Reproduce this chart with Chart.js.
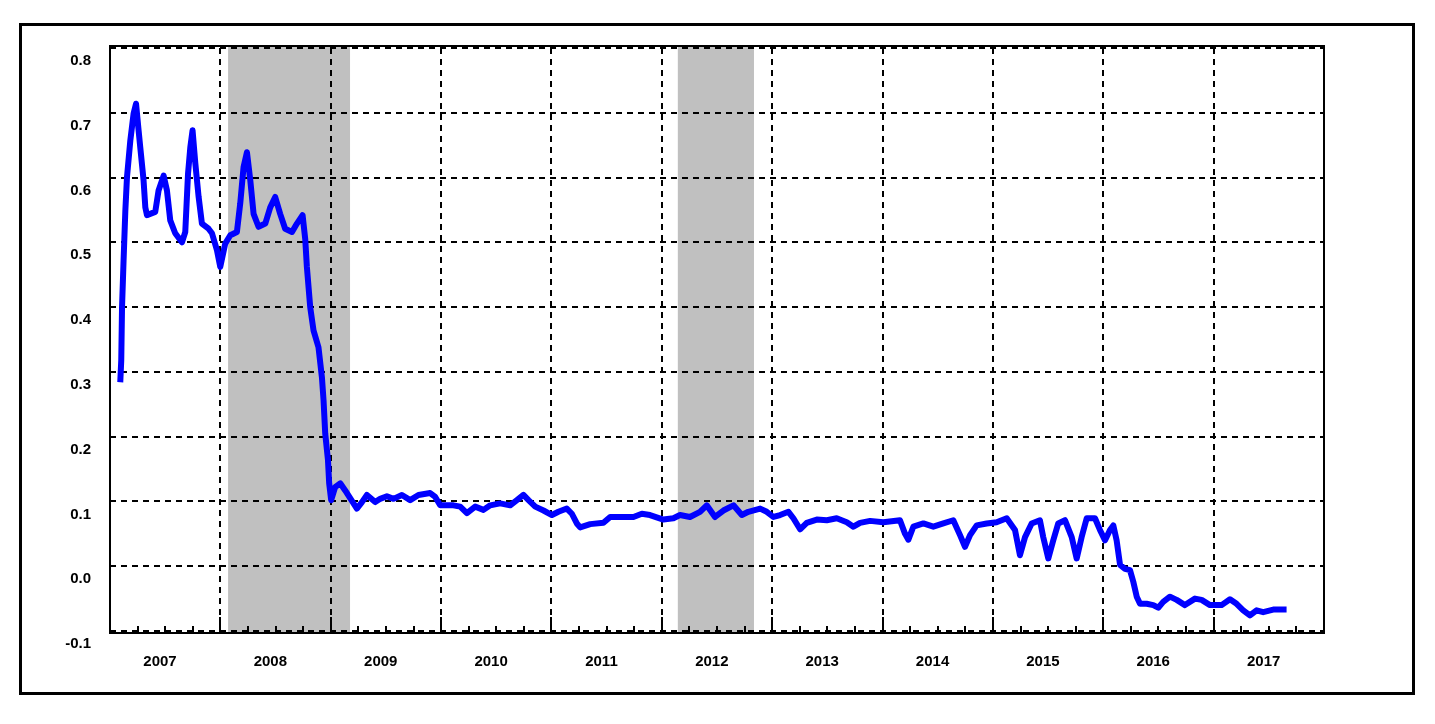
<!DOCTYPE html>
<html>
<head>
<meta charset="utf-8">
<script src="https://cdn.jsdelivr.net/npm/chart.js@4.4.1/dist/chart.umd.min.js"></script>
<style>
  html, body { margin: 0; padding: 0; background: #fff; }
  #frame { position: absolute; left: 19px; top: 23px; width: 1396px; height: 672px; border: 3px solid #000; box-sizing: border-box; }
  #chart { position: absolute; left: 0; top: 0; }
</style>
</head>
<body>
<div id="frame"></div>
<canvas id="chart" width="1435" height="724"></canvas>
<script>
// decimal years and values
const years = [
  2007.093, 2007.102, 2007.109, 2007.123, 2007.139, 2007.154, 2007.184, 2007.214, 2007.236, 2007.259,
  2007.274, 2007.304, 2007.320, 2007.335, 2007.410, 2007.440, 2007.486, 2007.516, 2007.546, 2007.591,
  2007.652, 2007.682, 2007.707, 2007.728, 2007.748, 2007.773, 2007.803, 2007.833, 2007.893, 2007.924,
  2007.969, 2007.999, 2008.044, 2008.090, 2008.150, 2008.180, 2008.210, 2008.241, 2008.271, 2008.301,
  2008.346, 2008.407, 2008.452, 2008.497, 2008.542, 2008.587, 2008.649, 2008.694, 2008.745, 2008.769,
  2008.784, 2008.814, 2008.844, 2008.889, 2008.920, 2008.935, 2008.950, 2008.975, 2008.986, 2009.004,
  2009.040, 2009.086, 2009.131, 2009.176, 2009.237, 2009.283, 2009.328, 2009.403, 2009.448, 2009.509,
  2009.569, 2009.645, 2009.720, 2009.795, 2009.901, 2009.947, 2009.992, 2010.112, 2010.173, 2010.234,
  2010.309, 2010.384, 2010.445, 2010.535, 2010.626, 2010.687, 2010.746, 2010.792, 2010.853, 2010.928,
  2011.004, 2011.063, 2011.139, 2011.185, 2011.230, 2011.260, 2011.351, 2011.471, 2011.532, 2011.622,
  2011.743, 2011.819, 2011.893, 2012.014, 2012.105, 2012.165, 2012.255, 2012.346, 2012.407, 2012.482,
  2012.558, 2012.649, 2012.725, 2012.784, 2012.891, 2012.951, 2013.011, 2013.072, 2013.147, 2013.192,
  2013.253, 2013.313, 2013.404, 2013.495, 2013.585, 2013.676, 2013.736, 2013.796, 2013.887, 2014.007,
  2014.158, 2014.204, 2014.234, 2014.279, 2014.370, 2014.460, 2014.551, 2014.641, 2014.702, 2014.747,
  2014.793, 2014.853, 2014.944, 2015.034, 2015.125, 2015.200, 2015.245, 2015.291, 2015.351, 2015.426,
  2015.456, 2015.502, 2015.547, 2015.592, 2015.653, 2015.714, 2015.759, 2015.804, 2015.850, 2015.925,
  2015.970, 2016.016, 2016.061, 2016.091, 2016.121, 2016.152, 2016.197, 2016.242, 2016.272, 2016.303,
  2016.333, 2016.393, 2016.453, 2016.498, 2016.543, 2016.604, 2016.665, 2016.740, 2016.831, 2016.891,
  2016.967, 2017.072, 2017.148, 2017.208, 2017.268, 2017.329, 2017.389, 2017.449, 2017.540, 2017.661
];
const values = [
  0.284, 0.318, 0.400, 0.472, 0.549, 0.601, 0.657, 0.699, 0.714, 0.673,
  0.647, 0.596, 0.554, 0.542, 0.547, 0.580, 0.603, 0.580, 0.534, 0.514,
  0.500, 0.516, 0.606, 0.647, 0.673, 0.622, 0.570, 0.529, 0.521, 0.514,
  0.488, 0.462, 0.498, 0.511, 0.516, 0.560, 0.616, 0.639, 0.596, 0.544,
  0.524, 0.529, 0.554, 0.570, 0.544, 0.521, 0.516, 0.529, 0.542, 0.505,
  0.462, 0.400, 0.364, 0.338, 0.292, 0.256, 0.205, 0.164, 0.128, 0.102,
  0.122, 0.128, 0.117, 0.105, 0.089, 0.099, 0.110, 0.099, 0.104, 0.108,
  0.104, 0.110, 0.102, 0.110, 0.113, 0.107, 0.094, 0.094, 0.092, 0.082,
  0.092, 0.087, 0.094, 0.097, 0.094, 0.102, 0.110, 0.102, 0.092, 0.086,
  0.079, 0.084, 0.089, 0.081, 0.066, 0.060, 0.065, 0.067, 0.076, 0.076,
  0.076, 0.081, 0.079, 0.072, 0.074, 0.079, 0.076, 0.084, 0.094, 0.076,
  0.086, 0.094, 0.079, 0.084, 0.089, 0.084, 0.076, 0.079, 0.084, 0.074,
  0.057, 0.067, 0.072, 0.071, 0.074, 0.068, 0.061, 0.067, 0.070, 0.068,
  0.071, 0.050, 0.041, 0.061, 0.066, 0.061, 0.066, 0.071, 0.048, 0.030,
  0.048, 0.063, 0.066, 0.068, 0.074, 0.056, 0.017, 0.045, 0.066, 0.071,
  0.045, 0.012, 0.040, 0.066, 0.071, 0.045, 0.012, 0.045, 0.074, 0.074,
  0.056, 0.040, 0.056, 0.063, 0.040, 0.002, -0.004, -0.006, -0.024, -0.047,
  -0.058, -0.058, -0.060, -0.064, -0.055, -0.047, -0.052, -0.060, -0.050, -0.052,
  -0.060, -0.060, -0.051, -0.058, -0.068, -0.076, -0.068, -0.071, -0.067, -0.067
];
// shaded periods
const shadeStart = [2008.07, 2012.145];
const shadeEnd = [2009.175, 2012.835];

const font = { family: 'Liberation Sans', size: 15, weight: 'bold' };

// gray bands under the grid, frame and quarter ticks on top
const decor = {
  id: 'decor',
  beforeDraw(chart) {
    const { ctx, chartArea: a, scales: { x } } = chart;
    ctx.save();
    ctx.fillStyle = '#c0c0c0';
    shadeStart.forEach((s, i) => {
      const x0 = x.getPixelForValue(s);
      const x1 = x.getPixelForValue(shadeEnd[i]);
      ctx.fillRect(x0, a.top - 2, x1 - x0, a.bottom - a.top + 4);
    });
    ctx.restore();
  },
  afterDraw(chart) {
    const { ctx, chartArea: a, scales: { x } } = chart;
    ctx.save();
    ctx.strokeStyle = '#000';
    ctx.lineWidth = 2;
    ctx.beginPath();
    for (let q = 2007; q <= 2018; q += 0.25) {
      const px = Math.round(x.getPixelForValue(q));
      const len = Number.isInteger(q) ? 16 : 7;
      ctx.moveTo(px, a.bottom + 2);
      ctx.lineTo(px, a.bottom + 2 - len);
    }
    ctx.stroke();
    ctx.strokeRect(a.left, a.top - 2, a.right - a.left, a.bottom - a.top + 4);
    ctx.restore();
  }
};

new Chart(document.getElementById('chart'), {
  type: 'line',
  data: {
    datasets: [{
      data: years.map((yr, i) => ({ x: yr, y: values[i] })),
      borderColor: '#0000ff',
      borderWidth: 6,
      pointRadius: 0,
      tension: 0,
      borderJoinStyle: 'round'
    }]
  },
  options: {
    responsive: false,
    animation: false,
    devicePixelRatio: 1,
    layout: { padding: { top: 48, right: 111, left: 0, bottom: 0 } },
    plugins: { legend: { display: false }, tooltip: { enabled: false } },
    scales: {
      x: {
        type: 'linear', min: 2007, max: 2018,
        afterFit: s => { s.height = 93; },
        grid: { color: '#000', lineWidth: 2, drawTicks: false },
        border: { display: false, dash: [6, 5] },
        ticks: {
          stepSize: 1, padding: 22, labelOffset: 50, maxRotation: 0, autoSkip: false,
          color: '#000', font: font,
          callback: v => v < 2018 ? String(v) : ''
        }
      },
      y: {
        min: -0.1, max: 0.8,
        afterFit: s => { s.width = 110; },
        grid: { color: '#000', lineWidth: 2, drawTicks: false },
        border: { display: false, dash: [6, 5] },
        ticks: {
          stepSize: 0.1, padding: 19, labelOffset: 13,
          color: '#000', font: font,
          callback: v => v.toFixed(1)
        }
      }
    }
  },
  plugins: [decor]
});
</script>
</body>
</html>
